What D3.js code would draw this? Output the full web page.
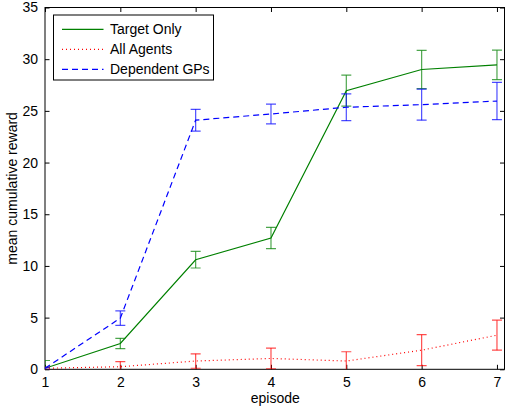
<!DOCTYPE html>
<html>
<head>
<meta charset="utf-8">
<script src="https://cdn.jsdelivr.net/npm/d3@7"></script>
<style>
  body { margin: 0; background: #fff; }
  text { font-family: "Liberation Sans", Arial, sans-serif; }
</style>
</head>
<body>
<script>
// values
const episodes = [1, 2, 3, 4, 5, 6, 7];
const targetOnly = [0.1, 2.5, 10.6, 12.7, 26.95, 29.0, 29.45];
const targetErr = [0.75, 0.5, 0.8, 1.03, 1.5, 1.85, 1.42];
const allAgents = [0.1, 0.25, 0.8, 1.05, 0.8, 1.85, 3.3];
const allErr = [0.1, 0.5, 0.7, 1.0, 0.9, 1.5, 1.45];
const depGPs = [0.1, 4.95, 24.1, 24.7, 25.35, 25.6, 25.95];
const depErr = [0.1, 0.7, 1.05, 0.95, 1.3, 1.5, 1.8];
const yTicks = [0, 5, 10, 15, 20, 25, 30, 35];

const series = [
    { name: "Target Only", values: targetOnly, err: targetErr, color: "#008000", dash: null },
    { name: "All Agents", values: allAgents, err: allErr, color: "#ff0000", dash: "1,3" },
    { name: "Dependent GPs", values: depGPs, err: depErr, color: "#0000ff", dash: "6,4" }
];

const W = 506, H = 407;
const margin = { top: 7.5, right: 1.5, bottom: 37.7, left: 45 };
const width = W - margin.left - margin.right;
const height = H - margin.top - margin.bottom;

const svg = d3.select("body").append("svg")
    .attr("width", W)
    .attr("height", H);

const g = svg.append("g")
    .attr("transform", "translate(" + margin.left + "," + margin.top + ")");

const x = d3.scaleLinear().domain([1, 7.1]).range([0, width]);
const y = d3.scaleLinear().domain([0, 35]).range([height, 0]);

g.append("clipPath").attr("id", "plotclip")
    .append("rect").attr("width", width).attr("height", height);

// axes (ticks inside, box on all sides)
const tk = 4.5;
g.append("g")
    .attr("transform", "translate(0," + height + ")")
    .call(d3.axisBottom(x).tickValues(episodes).tickSize(-tk).tickPadding(8).tickFormat(d3.format("d")));
g.append("g")
    .call(d3.axisLeft(y).tickValues(yTicks).tickSize(-tk).tickPadding(7));
g.append("g")
    .call(d3.axisTop(x).tickValues(episodes).tickSize(-tk).tickFormat(""));
g.append("g")
    .attr("transform", "translate(" + width + ",0)")
    .call(d3.axisRight(y).tickValues(yTicks).tickSize(-tk).tickFormat(""));
g.selectAll(".domain").remove();
g.selectAll(".tick line").attr("stroke", "#000");
g.selectAll(".tick text").attr("font-size", 14).attr("fill", "#000");
g.append("rect")
    .attr("width", width).attr("height", height)
    .attr("fill", "none").attr("stroke", "#000").attr("stroke-width", 1);

const plot = g.append("g").attr("clip-path", "url(#plotclip)");
const line = d3.line().x((d, i) => x(episodes[i])).y(d => y(d));

series.forEach(s => {
    plot.append("path")
        .datum(s.values)
        .attr("d", line)
        .attr("fill", "none")
        .attr("stroke", s.color)
        .attr("stroke-width", 1.2)
        .attr("stroke-dasharray", s.dash);

    const eb = plot.append("g")
        .attr("stroke", s.color)
        .attr("stroke-opacity", 0.7)
        .attr("stroke-width", 1.2);
    s.values.forEach((v, i) => {
        const xe = x(episodes[i]);
        const lo = y(v - s.err[i]), hi = y(v + s.err[i]);
        eb.append("line").attr("x1", xe).attr("x2", xe).attr("y1", lo).attr("y2", hi);
        eb.append("line").attr("x1", xe - 5).attr("x2", xe + 5).attr("y1", lo).attr("y2", lo);
        eb.append("line").attr("x1", xe - 5).attr("x2", xe + 5).attr("y1", hi).attr("y2", hi);
    });
});

// axis labels
svg.append("text")
    .attr("x", margin.left + width / 2 + 0.5)
    .attr("y", 402.5)
    .attr("text-anchor", "middle")
    .attr("font-size", 14)
    .text("episode");
svg.append("text")
    .attr("transform", "translate(17," + (margin.top + height / 2) + ") rotate(-90)")
    .attr("text-anchor", "middle")
    .attr("font-size", 14)
    .text("mean cumulative reward");

// legend
const lg = svg.append("g").attr("transform", "translate(53.5,15)");
lg.append("rect")
    .attr("width", 160).attr("height", 65)
    .attr("fill", "#fff").attr("stroke", "#000").attr("stroke-width", 1);
series.forEach((s, i) => {
    const ly = 14.3 + i * 20;
    lg.append("line")
        .attr("x1", 8.5).attr("x2", 50)
        .attr("y1", ly).attr("y2", ly)
        .attr("stroke", s.color)
        .attr("stroke-width", 1.2)
        .attr("stroke-dasharray", s.dash);
    lg.append("text")
        .attr("x", 56.5).attr("y", ly + 5)
        .attr("font-size", 14)
        .text(s.name);
});
</script>
</body>
</html>
